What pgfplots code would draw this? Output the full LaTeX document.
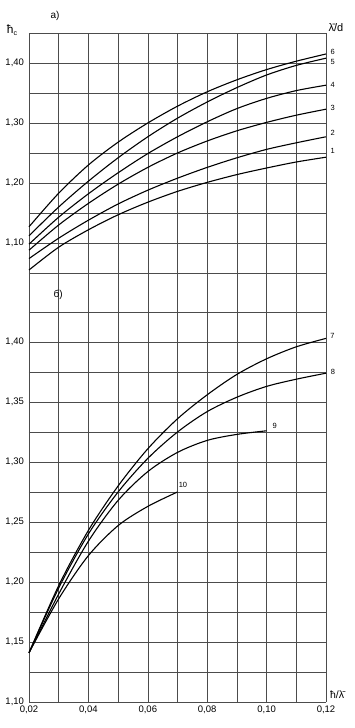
\documentclass[border=0pt]{standalone}
\usepackage{fontspec}
\setmainfont{Liberation Sans}
\usepackage{pgfplots}
\pgfplotsset{compat=1.18}
\pgfplotsset{
  common/.style={
    scale only axis, width=297pt, clip=false,
    xmin=0.02, xmax=0.12,
    xtick={0.02,0.04,0.06,0.08,0.10,0.12},
    minor xtick={0.03,0.05,0.07,0.09,0.11},
    grid=both,
    major grid style={black!70, line width=0.6pt},
    minor grid style={black!70, line width=0.6pt},
    axis line style={draw=none},
    major tick length=0pt, minor tick length=0pt,
    tick label style={font=\fontsize{9.5}{10}\selectfont},
    yticklabel style={xshift=-1.5pt},
    /pgf/number format/fixed,
    /pgf/number format/fixed zerofill,
    /pgf/number format/precision=2,
    /pgf/number format/use comma,
    /pgf/number format/assume math mode=true,
  },
  crv/.style={black, line width=1.1pt, smooth, no markers},
}
\tikzset{lab/.style={anchor=west, font=\fontsize{7.5}{8}\selectfont, inner sep=0.5pt}}
\begin{document}
\begin{tikzpicture}
\useasboundingbox (0pt,0pt) rectangle (354pt,728pt);
% upper panel a)
\begin{axis}[common, height=259pt, at={(29pt,436pt)}, anchor=south west,
  ymin=1.018333, ymax=1.45,
  ytick={1.10,1.20,1.30,1.40},
  minor ytick={1.05,1.15,1.25,1.35,1.45},
  xticklabels={}]
\addplot[crv] coordinates {(0.02,1.055) (0.03,1.093) (0.04,1.122) (0.05,1.147) (0.06,1.168) (0.07,1.186) (0.08,1.201) (0.09,1.214) (0.10,1.225) (0.11,1.235) (0.12,1.243)};
\addplot[crv] coordinates {(0.02,1.074) (0.03,1.108) (0.04,1.138) (0.05,1.165) (0.06,1.188) (0.07,1.208) (0.08,1.226) (0.09,1.242) (0.10,1.256) (0.11,1.267) (0.12,1.277)};
\addplot[crv] coordinates {(0.02,1.088) (0.03,1.130) (0.04,1.166) (0.05,1.198) (0.06,1.226) (0.07,1.250) (0.08,1.270) (0.09,1.287) (0.10,1.301) (0.11,1.313) (0.12,1.323)};
\addplot[crv] coordinates {(0.02,1.098) (0.03,1.143) (0.04,1.182) (0.05,1.217) (0.06,1.249) (0.07,1.277) (0.08,1.302) (0.09,1.324) (0.10,1.341) (0.11,1.354) (0.12,1.363)};
\addplot[crv] coordinates {(0.02,1.112) (0.03,1.160) (0.04,1.203) (0.05,1.242) (0.06,1.277) (0.07,1.308) (0.08,1.335) (0.09,1.359) (0.10,1.380) (0.11,1.396) (0.12,1.408)};
\addplot[crv] coordinates {(0.02,1.127) (0.03,1.183) (0.04,1.230) (0.05,1.268) (0.06,1.300) (0.07,1.328) (0.08,1.352) (0.09,1.372) (0.10,1.389) (0.11,1.403) (0.12,1.415)};
\node[lab] at (0.1213,1.419) {6};
\node[lab] at (0.1213,1.401) {5};
\node[lab] at (0.1213,1.364) {4};
\node[lab] at (0.1213,1.325) {3};
\node[lab] at (0.1213,1.284) {2};
\node[lab] at (0.1213,1.254) {1};
\node[font=\fontsize{10}{11}\selectfont, inner sep=0pt] at (0.02875,1.478) {а)};
\node[font=\fontsize{12}{13}\selectfont, inner sep=0pt] at (0.0143,1.454) {ħ\raisebox{-0.3ex}{\fontsize{7}{7}\selectfont c}};
\node[anchor=west, font=\fontsize{11}{12}\selectfont, inner sep=0pt] at (0.1208,1.4583) {λ̄/d};
\end{axis}
% lower panel b)
\begin{axis}[common, height=410pt, at={(29pt,26pt)}, anchor=south west,
  ymin=1.10, ymax=1.441667,
  ytick={1.10,1.15,1.20,1.25,1.30,1.35,1.40},
  minor ytick={1.125,1.175,1.225,1.275,1.325,1.375,1.425}]
\addplot[crv] coordinates {(0.02,1.141) (0.03,1.197) (0.04,1.243) (0.05,1.280) (0.06,1.311) (0.07,1.336) (0.08,1.356) (0.09,1.373) (0.10,1.386) (0.11,1.396) (0.12,1.403)};
\addplot[crv] coordinates {(0.02,1.141) (0.03,1.195) (0.04,1.240) (0.05,1.275) (0.06,1.303) (0.07,1.325) (0.08,1.342) (0.09,1.354) (0.10,1.363) (0.11,1.369) (0.12,1.374)};
\addplot[crv] coordinates {(0.02,1.141) (0.03,1.190) (0.04,1.234) (0.05,1.268) (0.06,1.292) (0.07,1.308) (0.08,1.318) (0.09,1.323) (0.10,1.326)};
\addplot[crv] coordinates {(0.02,1.141) (0.03,1.186) (0.04,1.222) (0.05,1.247) (0.06,1.263) (0.07,1.275)};
\node[lab] at (0.1212,1.405) {7};
\node[lab] at (0.1214,1.3754) {8};
\node[lab] at (0.1018,1.330) {9};
\node[lab] at (0.0702,1.281) {10};
\node[font=\fontsize{10}{11}\selectfont, inner sep=0pt] at (0.0298,1.4392) {б)};
\node[anchor=west, font=\fontsize{10.5}{11}\selectfont, inner sep=0pt] at (0.1213,1.106) {ħ/λ̄};
\end{axis}
\end{tikzpicture}
\end{document}
